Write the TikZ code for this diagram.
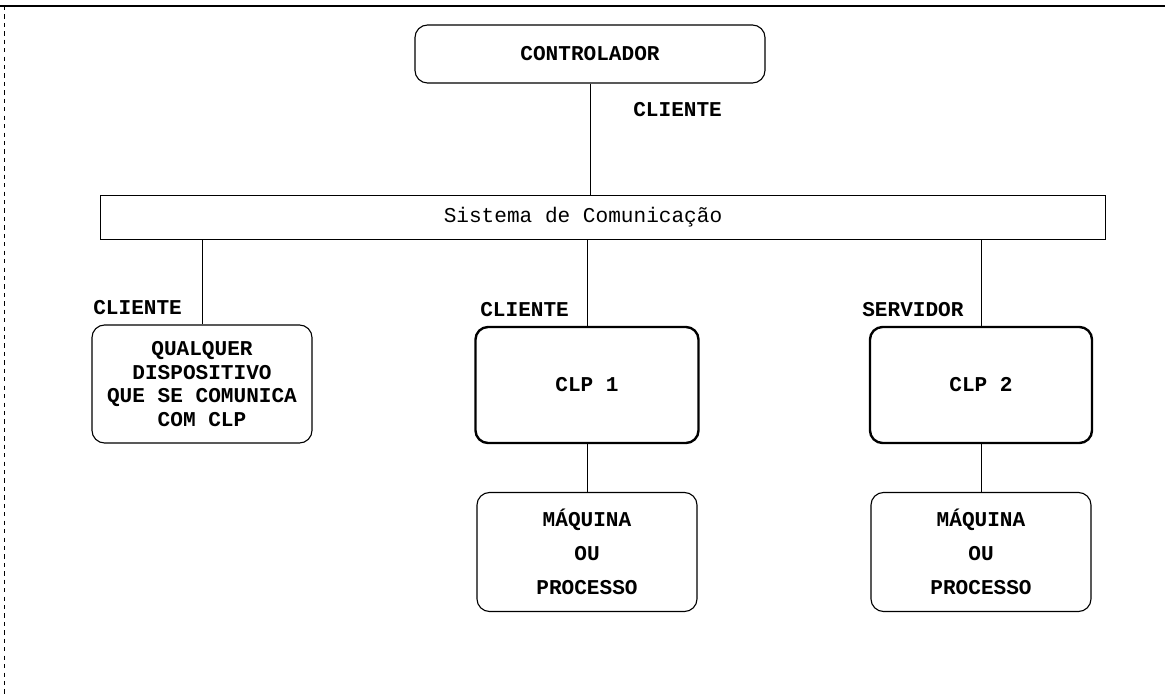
\documentclass[tikz,border=0pt]{standalone}
\usepackage{fontspec}
\setmonofont{Liberation Mono}

\begin{document}
\begin{tikzpicture}[x=0.025cm,y=-0.025cm]
    \tikzstyle{every node}=[font=\ttfamily\bfseries\fontsize{15}{17}\selectfont]
    \tikzstyle{box}=[draw, line width=0.8pt, rounded corners=9pt, align=center, inner sep=0pt]
    \tikzstyle{clpbox}=[box, line width=1.7pt]
    \tikzstyle{role}=[anchor=west, inner sep=0pt]
    \tikzstyle{link}=[line width=0.6pt]

    \useasboundingbox (0,0) rectangle (1165,696);

    % Frame
    \draw[line width=1.2pt] (0,6) -- (1165,6);
    \draw[dashed, line width=0.6pt] (4,6) -- (4,696);

    % Controller and bus
    \node[box, minimum width=8.75cm, minimum height=1.45cm] at (590,54) (ctrl) {CONTROLADOR};
    \node[draw, line width=0.6pt, minimum width=25.1cm, minimum height=1.1cm] at (603,217) (bus) {};
    \node[font=\ttfamily\fontsize{15}{17}\selectfont] at (583,217) (bustxt) {Sistema de Comunicação};
    \node[role] at (633,110) (rctrl) {CLIENTE};

    \draw[link] (ctrl.south) -- (ctrl.south |- bus.north);

    % Devices on the bus
    \node[box, minimum width=5.5cm, minimum height=2.95cm,
          font=\ttfamily\bfseries\fontsize{15}{16.7}\selectfont] at (202,384) (dev)
          {QUALQUER\\DISPOSITIVO\\QUE SE COMUNICA\\COM CLP};
    \node[clpbox, minimum width=5.575cm, minimum height=2.9cm] at (587,385) (clp1) {CLP 1};
    \node[clpbox, minimum width=5.55cm, minimum height=2.9cm] at (981,385) (clp2) {CLP 2};

    \node[role] at (93,308) (rdev) {CLIENTE};
    \node[role] at (480,310) (rclp1) {CLIENTE};
    \node[role] at (862,310) (rclp2) {SERVIDOR};

    \draw[link] (dev.north) -- (dev.north |- bus.south);
    \draw[link] (clp1.north) -- (clp1.north |- bus.south);
    \draw[link] (clp2.north) -- (clp2.north |- bus.south);

    % Machines
    \node[box, minimum width=5.5cm, minimum height=2.975cm,
          font=\ttfamily\bfseries\fontsize{15}{24}\selectfont] at (587,552) (maq1)
          {MÁQUINA\\OU\\PROCESSO};
    \node[box, minimum width=5.5cm, minimum height=2.975cm,
          font=\ttfamily\bfseries\fontsize{15}{24}\selectfont] at (981,552) (maq2)
          {MÁQUINA\\OU\\PROCESSO};

    \draw[link] (clp1.south) -- (maq1.north);
    \draw[link] (clp2.south) -- (maq2.north);

\end{tikzpicture}
\end{document}
